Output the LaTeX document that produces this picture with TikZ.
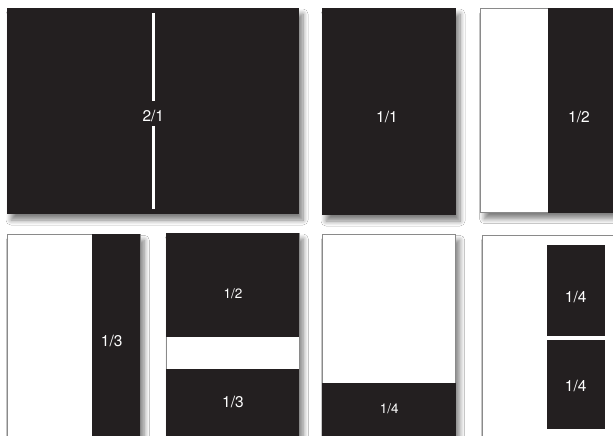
\documentclass[tikz,border=0pt]{standalone}
\usepackage{fontspec}
\setmainfont{TeX Gyre Heros}
\usetikzlibrary{shadows.blur}
\definecolor{ink}{HTML}{231F20}
\definecolor{edge}{HTML}{8A8A8A}
\begin{document}
\begin{tikzpicture}[x=1pt,y=-1pt,
  sh/.style={blur shadow={shadow xshift=4pt,shadow yshift=-6pt,shadow blur radius=5pt,shadow opacity=50,shadow blur steps=8}},
  blk/.style={fill=ink},
  pane/.style={fill=white,draw=edge,line width=0.8pt},
  lab/.style={text=white,font=\fontsize{15.5}{18}\selectfont,inner sep=0pt},
  labs/.style={text=white,font=\fontsize{13.5}{16}\selectfont,inner sep=0pt}]
\useasboundingbox (0,0) rectangle (613,436);
\fill[white] (0,0) rectangle (613,436);
\clip (0,0) rectangle (613,436);
% ---- top row ----
\path[blk,sh] (7,8) rectangle (299,214);
\fill[white] (151.8,13) rectangle (154.8,100.7);
\fill[white] (151.8,126) rectangle (154.8,209);
\node[lab] (l21) at (153.3,116) {2/1};

\path[blk,sh] (322,8) rectangle (456,215);
\node[lab] (l11) at (387,117) {1/1};

\path[pane,sh] (480.5,8) rectangle (625,212.7);
\fill[ink] (548,8) rectangle (625,212.7);
\node[lab] (l12) at (579,117) {1/2};

% ---- bottom row ----
\path[pane,sh] (7.3,234.3) rectangle (140.3,445);
\fill[ink] (92,234.3) rectangle (140.3,445);
\node[lab] (l13a) at (111.7,341) {1/3};

\path[pane,sh] (166,233) rectangle (299.3,445);
\fill[ink] (166,233) rectangle (299.3,337);
\fill[ink] (166,369) rectangle (299.3,445);
\node[labs] (l12b) at (233,294) {1/2};
\node[lab] (l13b) at (233,401.7) {1/3};

\path[pane,sh] (322.3,234.3) rectangle (455.7,445);
\fill[ink] (322.3,383) rectangle (455.7,445);
\node[labs] (l14a) at (389.3,409) {1/4};

\path[pane,sh] (482.3,235) rectangle (625,445);
\fill[ink] (547,245) rectangle (605,335.7);
\fill[ink] (547,340) rectangle (605,428.7);
\node[lab] (l14b) at (575.7,297) {1/4};
\node[lab] (l14c) at (575.7,386.3) {1/4};
\end{tikzpicture}
\end{document}
